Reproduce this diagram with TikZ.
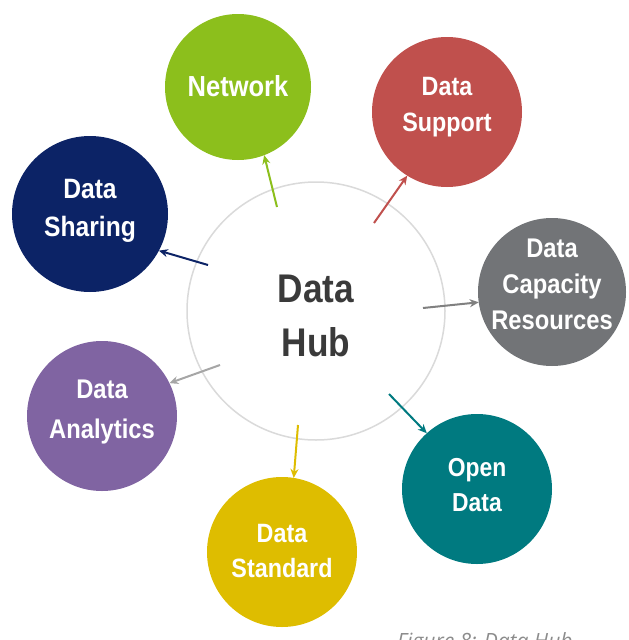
\documentclass[tikz,border=0pt]{standalone}
\usepackage{fontspec}
\setmainfont{Liberation Sans}[FakeStretch=0.88]
\newfontfamily\capfont{Open Sans}
\usetikzlibrary{arrows.meta}

\definecolor{netgreen}{HTML}{8CBF1C}
\definecolor{supred}{HTML}{C0504D}
\definecolor{sharenavy}{HTML}{0C2366}
\definecolor{capgray}{HTML}{727477}
\definecolor{anapurple}{HTML}{8064A2}
\definecolor{stdyellow}{HTML}{DEBD00}
\definecolor{openteal}{HTML}{007A80}
\definecolor{hubring}{HTML}{DADADA}
\definecolor{hubtext}{HTML}{3A3A3A}
\definecolor{lightarrow}{HTML}{A6A6A6}
\definecolor{midarrow}{HTML}{808080}

\tikzset{
  disc/.style={circle, inner sep=0pt, outer sep=0pt, minimum size=#1},
  topictext/.style 2 args={inner sep=0pt, text=white, align=center,
    font=\bfseries\fontsize{#1}{#2}\selectfont},
  hubring/.style={circle, inner sep=0pt, outer sep=0pt, draw=hubring, line width=1.5pt,
    fill=white, minimum size=258pt},
  hubtext/.style={inner sep=0pt, text=hubtext, align=center,
    font=\bfseries\fontsize{40}{54}\selectfont},
  link/.style={line width=2pt, -{Stealth[length=9pt,width=8pt]}},
}

\begin{document}
\begin{tikzpicture}[x=1pt,y=-1pt]
  \useasboundingbox (0,0) rectangle (629,640);
  \clip (0,0) rectangle (629,640);

  % central hub
  \node[hubring] (hub) at (316,311) {};
  \node[hubtext] (hub-t) at ([yshift=-5pt]hub.center) {Data\\Hub};

  % surrounding topics
  \node[disc=146pt, fill=netgreen]  (net) at (238,87)  {};
  \node[disc=150pt, fill=supred]    (sup) at (447,112) {};
  \node[disc=156pt, fill=sharenavy] (shr) at (90,214)  {};
  \node[disc=148pt, fill=capgray]   (cap) at (552,292) {};
  \node[disc=150pt, fill=anapurple] (ana) at (102,416) {};
  \node[disc=150pt, fill=stdyellow] (std) at (282,552) {};
  \node[disc=150pt, fill=openteal]  (opn) at (477,489) {};

  \node[topictext={29}{36}]   (net-t) at ([yshift=1pt]net.center) {Network};
  \node[topictext={26.5}{36}] (sup-t) at ([yshift=5pt]sup.center) {Data\\Support};
  \node[topictext={28}{38}]   (shr-t) at ([yshift=3pt]shr.center) {Data\\Sharing};
  \node[topictext={27}{36}]   (cap-t) at ([yshift=8pt]cap.center) {Data\\Capacity\\Resources};
  \node[topictext={27}{40}]   (ana-t) at ([yshift=4pt]ana.center) {Data\\Analytics};
  \node[topictext={26.5}{35}] (std-t) at ([yshift=1pt]std.center) {Data\\Standard};
  \node[topictext={26}{35}]   (opn-t) at ([yshift=4pt]opn.center) {Open\\Data};

  % arrow start points inside the hub
  \coordinate (s1) at (277,207);
  \coordinate (s2) at (374,223);
  \coordinate (s3) at (208,265);
  \coordinate (s4) at (423,308);
  \coordinate (s5) at (220,365);
  \coordinate (s6) at (298,425);
  \coordinate (s7) at (389,394);

  \draw[link, draw=netgreen]   (s1) -- (net.-69);
  \draw[link, draw=supred]     (s2) -- (sup.-122);
  \draw[link, draw=sharenavy]  (s3) -- (shr.-28);
  \draw[link, draw=midarrow]   (s4) -- (cap.188);
  \draw[link, draw=lightarrow] (s5) -- (ana.26);
  \draw[link, draw=stdyellow]  (s6) -- (std.81);
  \draw[link, draw=openteal]   (s7) -- (opn.132);

  % caption, running off the lower edge
  \node[anchor=base west, inner sep=0pt, text=gray!90,
        font=\capfont\itshape\fontsize{21}{24}\selectfont] (caption) at (397,648) {Figure 8: Data Hub};
\end{tikzpicture}
\end{document}
